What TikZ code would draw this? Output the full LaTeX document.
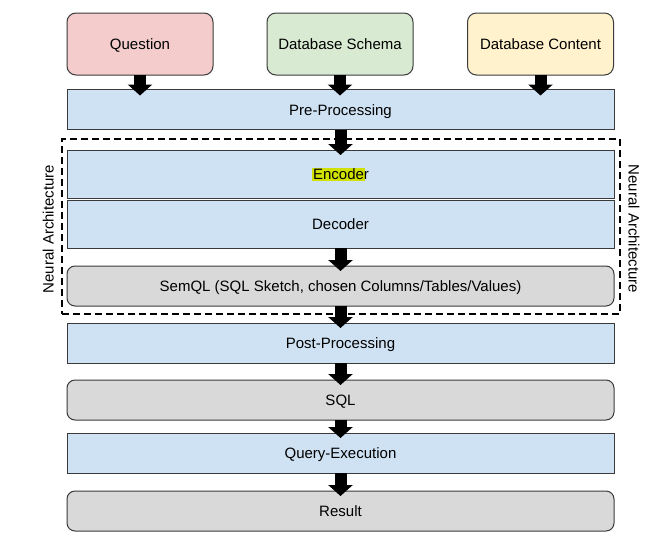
\documentclass[tikz,border=0pt]{standalone}
\usepackage{fontspec}
\setmainfont{Liberation Sans}
\usetikzlibrary{arrows.meta,calc}
\definecolor{qfill}{HTML}{F4CCCC}
\definecolor{sfill}{HTML}{D9EAD3}
\definecolor{cfill}{HTML}{FFF2CC}
\definecolor{bfill}{HTML}{CFE2F3}
\definecolor{gfill}{HTML}{D9D9D9}
\definecolor{edge}{HTML}{3A3A3A}
\definecolor{hilite}{RGB}{208,224,0}
\tikzset{
  base/.style={draw=edge, line width=1pt, inner sep=0pt, outer sep=0pt,
    font=\fontsize{15}{18}\selectfont, text=black, text height=11pt, text depth=0pt},
  inbox/.style={base, rounded corners=9pt, minimum width=146pt, minimum height=62pt},
  procbox/.style={base, fill=bfill, minimum width=547pt, minimum height=40pt},
  databox/.style={base, fill=gfill, rounded corners=8pt, minimum width=547pt, minimum height=40pt},
  fatarrow/.style={line width=12pt, draw=black, -{Triangle[width=24pt,length=11pt]}},
  sidelabel/.style={font=\fontsize{15}{18}\selectfont, text=black, inner sep=0pt, text height=11pt, text depth=0pt}
}
\begin{document}
\begin{tikzpicture}[x=1pt,y=-1pt]
\useasboundingbox (0,0) rectangle (650,544);
% inputs
\node[inbox, fill=qfill] (q) at (140,44) {Question};
\node[inbox, fill=sfill] (s) at (340,44) {Database Schema};
\node[inbox, fill=cfill] (c) at (540.5,44) {Database Content};
% pipeline
\node[procbox] (pre) at (340.5,109.5) {Pre-Processing};
\node[procbox, minimum height=48pt] (enc) at (340.5,174) {{\setlength{\fboxsep}{1pt}\colorbox{hilite}{Encode}}\hspace{-1pt}r};
\node[procbox, minimum height=48pt] (dec) at (340.5,224) {Decoder};
\node[databox] (sem) at (340.5,286) {SemQL (SQL Sketch, chosen Columns/Tables/Values)};
\node[procbox] (post) at (340.5,343) {Post-Processing};
\node[databox] (sql) at (340.5,400) {SQL};
\node[procbox] (qe) at (340.5,453) {Query-Execution};
\node[databox] (res) at (340.5,511) {Result};
% neural architecture frame
\node[draw=black, line width=1.2pt, dash pattern=on 7pt off 4pt, minimum width=558pt, minimum height=175pt, inner sep=0pt] (na) at (341,226.5) {};
\node[sidelabel, rotate=90] (nal) at (48,229) {Neural Architecture};
\node[sidelabel, rotate=-90] (nar) at (634,229) {Neural Architecture};
% arrows
\draw[fatarrow] (q.south) -- ($(q.south |- pre.north)+(0,6)$);
\draw[fatarrow] (s.south) -- ($(s.south |- pre.north)+(0,6)$);
\draw[fatarrow] (c.south) -- ($(c.south |- pre.north)+(0,6)$);
\draw[fatarrow] (pre.south) -- ($(enc.north)+(0,5)$);
\draw[fatarrow] (dec.south) -- ($(sem.north)+(0,5)$);
\draw[fatarrow] (sem.south) -- ($(post.north)+(0,5)$);
\draw[fatarrow] (post.south) -- ($(sql.north)+(0,5)$);
\draw[fatarrow] (sql.south) -- ($(qe.north)+(0,5)$);
\draw[fatarrow] (qe.south) -- ($(res.north)+(0,5)$);
\end{tikzpicture}
\end{document}
